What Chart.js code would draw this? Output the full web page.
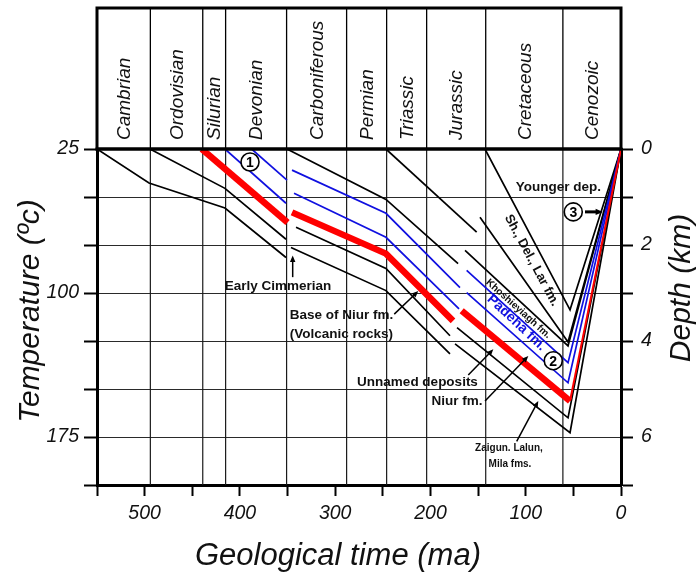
<!DOCTYPE html>
<html>
<head>
<meta charset="utf-8">
<script src="https://cdn.jsdelivr.net/npm/chart.js@4.4.1/dist/chart.umd.min.js"></script>
<style>
html,body{margin:0;padding:0;background:#fff;}
#c{display:block;}
</style>
</head>
<body>
<canvas id="c" width="699" height="573"></canvas>
<script>
// ---------- DATA ----------
const periods = ['Cambrian','Ordovisian','Silurian','Devonian','Carboniferous','Permian','Triassic','Jurassic','Cretaceous','Cenozoic'];
const periodBounds = [550, 494, 439, 415, 351, 288, 246, 204, 142, 61, 0];   // Ma
const timeTickLabels = [500, 400, 300, 200, 100, 0];
const depthTickLabels = [0, 2, 4, 6];            // km (right axis)
const tempTickDepths = [0, 3, 6];                 // km where temperature is labelled
const tempTickLabels = [25, 100, 175];            // deg C (left axis)

// Stage 1 (Palaeozoic, before the Early Cimmerian break)
const s1BlackA_ma = [550, 495.4, 415.7, 351.6];
const s1BlackA_d  = [0, 0.71, 1.23, 2.26];
const s1BlackB_ma = [494.4, 415.7, 351.6];
const s1BlackB_d  = [0, 0.82, 1.88];
const s1Red_ma    = [440, 350];
const s1Red_d     = [0, 1.53];
const s1BlueA_ma  = [415.7, 351.6];
const s1BlueA_d   = [0, 1.13];
const s1BlueB_ma  = [387.7, 350.6];
const s1BlueB_d   = [0, 0.65];

// Stage 2 (Carboniferous - Jurassic)
const s2TopBlack_ma = [350.6, 246.7, 171];
const s2TopBlack_d  = [0, 1.05, 2.39];
const s2TriBlack_ma = [246.7, 151.5];
const s2TriBlack_d  = [0, 1.73];
const s2BlueB_ma = [345.3, 246.7, 169];
const s2BlueB_d  = [0.44, 1.34, 2.89];
const s2BlueA_ma = [343.2, 246.7, 170];
const s2BlueA_d  = [0.92, 1.84, 3.33];
const s2Red_ma   = [345.3, 246.7, 176.3];
const s2Red_d    = [1.32, 2.18, 3.58];
const s2BlackB_ma = [341.1, 246.7, 179.5];
const s2BlackB_d  = [1.63, 2.49, 3.89];
const s2BlackA_ma = [346.4, 246.7, 179.5];
const s2BlackA_d  = [2.05, 2.95, 4.27];

// Stage 3 (Jurassic - Cenozoic, burial then uplift)
const s3Sh_ma    = [142.8, 53.5, 0];
const s3Sh_d     = [0, 3.35, 0];
const s3Khosh_ma = [148, 55.6, 0];
const s3Khosh_d  = [1.42, 4.02, 0];
const s3TopBlack_ma = [163.7, 55.6, 0];
const s3TopBlack_d  = [2.11, 4.10, 0];
const s3BlueB_ma = [162, 55.6, 0];
const s3BlueB_d  = [2.53, 4.45, 0];
const s3BlueA_ma = [162, 55.6, 0];
const s3BlueA_d  = [2.99, 4.87, 0];
const s3Red_ma   = [167.2, 53.5];          // thick burial part
const s3Red_d    = [3.37, 5.25];
const s3RedUp_ma = [53.5, 0];              // thin uplift part
const s3RedUp_d  = [5.25, 0];
const s3BlackB_ma = [172.1, 55.6, 0];
const s3BlackB_d  = [3.72, 5.60, 0];
const s3BlackA_ma = [174.2, 53.5, 0];
const s3BlackA_d  = [4.06, 5.91, 0];

// ---------- STYLE ----------
const FONT = '"Liberation Sans", Arial, Helvetica, sans-serif';
const RED = '#ff0000', BLUE = '#1010e0', BLACK = '#000000';
Chart.defaults.font.family = FONT;

function pts(ma, d){ return ma.map((m,i)=>({x:m, y:d[i]})); }

const series = [
  [s1Red_ma, s1Red_d, RED, 6.5],
  [s2Red_ma, s2Red_d, RED, 6.5],
  [s3Red_ma, s3Red_d, RED, 6.5],
  [s3RedUp_ma, s3RedUp_d, RED, 2],
  [s1BlueA_ma, s1BlueA_d, BLUE, 1.7],
  [s1BlueB_ma, s1BlueB_d, BLUE, 1.7],
  [s2BlueA_ma, s2BlueA_d, BLUE, 1.7],
  [s2BlueB_ma, s2BlueB_d, BLUE, 1.7],
  [s3BlueA_ma, s3BlueA_d, BLUE, 1.7],
  [s3BlueB_ma, s3BlueB_d, BLUE, 1.7],
  [s1BlackA_ma, s1BlackA_d, BLACK, 1.7],
  [s1BlackB_ma, s1BlackB_d, BLACK, 1.7],
  [s2TopBlack_ma, s2TopBlack_d, BLACK, 1.7],
  [s2TriBlack_ma, s2TriBlack_d, BLACK, 1.7],
  [s2BlackA_ma, s2BlackA_d, BLACK, 1.7],
  [s2BlackB_ma, s2BlackB_d, BLACK, 1.7],
  [s3Sh_ma, s3Sh_d, BLACK, 1.7],
  [s3Khosh_ma, s3Khosh_d, BLACK, 1.7],
  [s3TopBlack_ma, s3TopBlack_d, BLACK, 1.7],
  [s3BlackA_ma, s3BlackA_d, BLACK, 1.7],
  [s3BlackB_ma, s3BlackB_d, BLACK, 1.7]
];

const datasets = series.map(([ma, d, c, w]) => ({
  data: pts(ma, d), showLine: true, borderColor: c, backgroundColor: c,
  borderWidth: w, pointRadius: 0, fill: false, tension: 0,
  borderCapStyle: 'butt', borderJoinStyle: 'miter', yAxisID: 'y'
}));

// annotation placement (in Ma / km)
const labels = [
  {t:'Early Cimmerian', ma:360.0, d:2.85, size:13.5},
  {t:'Base of Niur fm.', ma:293.4, d:3.47, size:13.5},
  {t:'(Volcanic rocks)', ma:293.4, d:3.86, size:13.5},
  {t:'Unnamed deposits', ma:213.6, d:4.87, size:13.5},
  {t:'Niur fm.', ma:172.1, d:5.25, size:13.5},
  {t:'Zaigun. Lalun,', ma:117.6, d:6.23, size:10},
  {t:'Mila fms.', ma:116.5, d:6.56, size:10},
  {t:'Younger dep.', ma:65.8, d:0.79, size:13.5},
  {t:'Sh., Del., Lar fm.', ma:93.7, d:2.32, size:13, rot:61.8},
  {t:'Khoshieyiagh fm.', ma:107.8, d:3.33, size:10, rot:41.8},
  {t:'Padeha fm.', ma:109.7, d:3.62, size:14, rot:43, color:BLUE}
];
const arrows = [
  {ma1:344.6, d1:2.67, ma2:344.6, d2:2.22, w:1.5, head:7},
  {ma1:238.0, d1:3.44, ma2:212.8, d2:2.96, w:1.5, head:7},
  {ma1:160.3, d1:4.71, ma2:134.0, d2:4.17, w:1.5, head:7},
  {ma1:142.7, d1:5.25, ma2:97.3, d2:4.31, w:1.5, head:7},
  {ma1:109.5, d1:6.09, ma2:86.8, d2:5.25, w:1.5, head:7},
  {ma1:37.8, d1:1.31, ma2:18.9, d2:1.31, w:3, head:8}
];
const circles = [
  {t:'1', ma:389.4, d:0.27, r:9},
  {t:'2', ma:71.1, d:4.41, r:9},
  {t:'3', ma:50.1, d:1.31, r:9}
];

// ---------- PLUGIN ----------
const geoPlugin = {
  id: 'geo',
  beforeDatasetsDraw(chart){
    const {ctx, chartArea:a, scales:{x}} = chart;
    ctx.save();
    ctx.strokeStyle = '#1a1a1a'; ctx.lineWidth = 1.2;
    periodBounds.slice(1, -1).forEach(b => {
      const px = x.getPixelForValue(b);
      ctx.beginPath(); ctx.moveTo(px, a.top); ctx.lineTo(px, a.bottom); ctx.stroke();
    });
    ctx.restore();
  },
  afterDraw(chart){
    const {ctx, chartArea:a, scales:{x, y}} = chart;
    const panelTop = 8;
    ctx.save();
    // period panel
    ctx.strokeStyle = '#000';
    ctx.lineWidth = 1.3;
    periodBounds.slice(1, -1).forEach(b => {
      const px = x.getPixelForValue(b);
      ctx.beginPath(); ctx.moveTo(px, panelTop); ctx.lineTo(px, a.top); ctx.stroke();
    });
    ctx.lineWidth = 3;
    ctx.strokeRect(a.left, panelTop, a.right - a.left, a.top - panelTop);
    ctx.beginPath(); ctx.moveTo(a.left - 1.5, a.top); ctx.lineTo(a.right + 1.5, a.top); ctx.stroke();
    ctx.fillStyle = '#111';
    ctx.font = 'italic 19px ' + FONT;
    ctx.textAlign = 'left'; ctx.textBaseline = 'middle';
    periods.forEach((p, i) => {
      const cx = (x.getPixelForValue(periodBounds[i]) + x.getPixelForValue(periodBounds[i+1])) / 2;
      ctx.save(); ctx.translate(cx + 1, a.top - 9); ctx.rotate(-Math.PI/2);
      ctx.fillText(p, 0, 0); ctx.restore();
    });
    // axis titles
    ctx.font = 'italic 30px ' + FONT;
    ctx.textAlign = 'center'; ctx.textBaseline = 'middle';
    ctx.save(); ctx.translate(31, (a.top + a.bottom)/2 - 6); ctx.rotate(-Math.PI/2);
    ctx.fillText('Temperature (ºc)', 0, 0); ctx.restore();
    ctx.save(); ctx.translate(682, (a.top + a.bottom)/2 - 29); ctx.rotate(-Math.PI/2);
    ctx.fillText('Depth (km)', 0, 0); ctx.restore();
    ctx.font = 'italic 31px ' + FONT;
    ctx.fillText('Geological time (ma)', 338, 556);

    // annotations
    ctx.textAlign = 'center'; ctx.textBaseline = 'middle';
    labels.forEach(l => {
      ctx.save();
      ctx.font = 'bold ' + l.size + 'px ' + FONT;
      ctx.fillStyle = l.color || '#111';
      ctx.translate(x.getPixelForValue(l.ma), y.getPixelForValue(l.d));
      if (l.rot) ctx.rotate(l.rot * Math.PI/180);
      ctx.fillText(l.t, 0, 0);
      ctx.restore();
    });
    arrows.forEach(ar => {
      const x1 = x.getPixelForValue(ar.ma1), y1 = y.getPixelForValue(ar.d1);
      const x2 = x.getPixelForValue(ar.ma2), y2 = y.getPixelForValue(ar.d2);
      const ang = Math.atan2(y2 - y1, x2 - x1);
      const h = ar.head;
      ctx.strokeStyle = '#000'; ctx.fillStyle = '#000'; ctx.lineWidth = ar.w;
      ctx.beginPath(); ctx.moveTo(x1, y1);
      ctx.lineTo(x2 - Math.cos(ang)*h*0.8, y2 - Math.sin(ang)*h*0.8); ctx.stroke();
      ctx.beginPath(); ctx.moveTo(x2, y2);
      ctx.lineTo(x2 - Math.cos(ang - 0.4)*h, y2 - Math.sin(ang - 0.4)*h);
      ctx.lineTo(x2 - Math.cos(ang + 0.4)*h, y2 - Math.sin(ang + 0.4)*h);
      ctx.closePath(); ctx.fill();
    });
    circles.forEach(c => {
      const cx = x.getPixelForValue(c.ma), cy = y.getPixelForValue(c.d);
      ctx.beginPath(); ctx.arc(cx, cy, c.r, 0, Math.PI*2);
      ctx.fillStyle = '#fff'; ctx.fill();
      ctx.lineWidth = 1.6; ctx.strokeStyle = '#000'; ctx.stroke();
      ctx.fillStyle = '#000'; ctx.font = 'bold 14px ' + FONT;
      ctx.textAlign = 'center'; ctx.textBaseline = 'middle';
      ctx.fillText(c.t, cx, cy + 1);
    });
    ctx.restore();
  }
};

const tickFont = {family: FONT, size: 19.5, style: 'italic'};

new Chart(document.getElementById('c'), {
  type: 'scatter',
  data: { datasets },
  options: {
    responsive: false, animation: false, devicePixelRatio: 1,
    layout: { padding: {top: 149, left: 0, right: 0, bottom: 0} },
    plugins: { legend: {display: false}, tooltip: {enabled: false} },
    scales: {
      x: {
        type: 'linear', min: 0, max: 550, reverse: true, position: 'bottom',
        afterFit(s){ s.height = 88; },
        grid: { drawOnChartArea: false, drawTicks: true, tickLength: 11, tickWidth: 2, tickColor: '#000' },
        border: { display: true, width: 3, color: '#000' },
        ticks: { stepSize: 50, autoSkip: false, maxRotation: 0, padding: 6, color: '#111', font: tickFont,
          callback: v => timeTickLabels.includes(v) ? String(v) : '' }
      },
      y: {
        type: 'linear', min: 0, max: 7, reverse: true, position: 'left',
        afterFit(s){ s.width = 97; },
        grid: { drawOnChartArea: true, color: '#2a2a2a', lineWidth: 1, tickLength: 13, tickWidth: 2, tickColor: '#000' },
        border: { display: true, width: 3, color: '#000' },
        ticks: { stepSize: 1, autoSkip: false, padding: 5, color: '#111', font: tickFont,
          callback: v => { const i = tempTickDepths.indexOf(v); return i >= 0 ? String(tempTickLabels[i]) : ''; } }
      },
      y2: {
        type: 'linear', min: 0, max: 7, reverse: true, position: 'right',
        afterFit(s){ s.width = 78; },
        grid: { drawOnChartArea: false, tickLength: 12, tickWidth: 2, tickColor: '#000' },
        border: { display: true, width: 3, color: '#000' },
        ticks: { stepSize: 1, autoSkip: false, padding: 8, color: '#111', font: tickFont,
          callback: v => depthTickLabels.includes(v) ? String(v) : '' }
      }
    }
  },
  plugins: [geoPlugin]
});
</script>
</body>
</html>
